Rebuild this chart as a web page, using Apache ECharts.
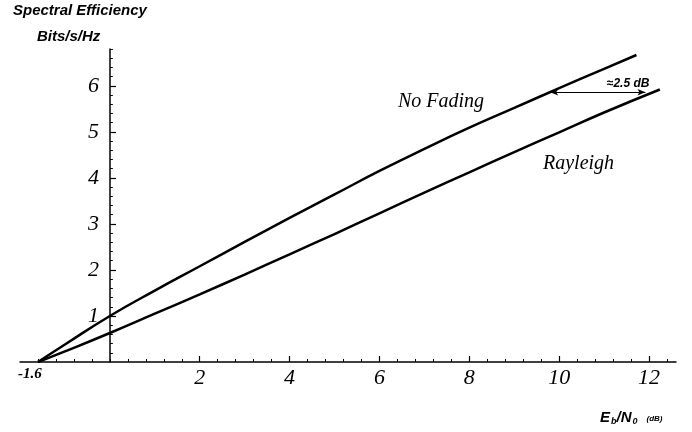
<!DOCTYPE html>
<html>
<head>
<meta charset="utf-8">
<script src="https://cdn.jsdelivr.net/npm/echarts@6/dist/echarts.min.js"></script>
<style>
  html, body { margin: 0; padding: 0; background: #fff; }
  #chart { width: 692px; height: 432px; }
</style>
</head>
<body>
<div id="chart"></div>
<script>
// ---- data ----
const noFadingX = [-1.6, -1, 0, 1, 2, 3, 4, 5, 6, 7, 8, 9, 10, 11, 11.72];
const noFadingY = [0, 0.38, 1.0, 1.55, 2.08, 2.61, 3.13, 3.64, 4.15, 4.63, 5.09, 5.52, 5.95, 6.37, 6.67];
const rayleighX = [-1.6, -1, 0, 1, 2, 3, 4, 5, 6, 7, 8, 9, 10, 11, 12.24];
const rayleighY = [0, 0.23, 0.63, 1.05, 1.47, 1.9, 2.34, 2.78, 3.23, 3.68, 4.12, 4.56, 4.99, 5.42, 5.92];
const xTickLabels = [-1.6, 2, 4, 6, 8, 10, 12];
const xMajorTicks = [2, 4, 6, 8, 10, 12];
const yTickLabels = [1, 2, 3, 4, 5, 6];
const arrowX = [9.8, 11.92];
const arrowY = 5.86;
const arrowText = '≈2.5 dB';
const curveNames = ['No Fading', 'Rayleigh'];

// minor tick positions (axis decoration only)
const xMinor = [];
for (let i = -4; i <= 31; i++) { xMinor.push(Math.round(i * 0.4 * 10) / 10); }
const yMinor = [];
for (let i = 1; i <= 34; i++) { yMinor.push(Math.round(i * 0.2 * 10) / 10); }

const serif = 'Liberation Serif';
const sans = 'Liberation Sans';

const zip = (xs, ys) => xs.map((x, i) => [x, ys[i]]);

const chart = echarts.init(document.getElementById('chart'), null, { renderer: 'canvas' });

const tickLabelStyle = { fontFamily: serif, fontStyle: 'italic', fontSize: 22, color: '#000' };

chart.setOption({
  animation: false,
  backgroundColor: '#fff',
  grid: { left: 20, right: 16, top: 49, bottom: 70, outerBoundsMode: 'none' },
  xAxis: [
    {
      type: 'value', min: -2, max: 12.6,
      axisLine: { onZero: true, lineStyle: { color: '#000', width: 1.5 } },
      axisTick: { show: true, inside: true, length: 3, customValues: xMinor, lineStyle: { color: '#000', width: 1 } },
      axisLabel: {
        show: true, customValues: xTickLabels, margin: 5,
        ...tickLabelStyle,
        formatter: v => (v < 0 ? '{n|' + v + '}' : String(v)),
        rich: { n: { fontFamily: serif, fontStyle: 'italic', fontWeight: 'bold', fontSize: 15, color: '#000', padding: [0, 16, 0, 0] } }
      },
      splitLine: { show: false }
    },
    {
      type: 'value', min: -2, max: 12.6, position: 'bottom',
      axisLine: { show: false, onZero: false },
      axisTick: { show: true, inside: true, length: 6, customValues: xMajorTicks, lineStyle: { color: '#000', width: 1.2 } },
      axisLabel: { show: false },
      splitLine: { show: false }
    }
  ],
  yAxis: [
    {
      type: 'value', min: 0, max: 6.8, position: 'left',
      axisLine: { onZero: true, lineStyle: { color: '#000', width: 1.5 } },
      axisTick: { show: true, inside: true, length: 3, customValues: yMinor, lineStyle: { color: '#000', width: 1 } },
      axisLabel: { show: false },
      splitLine: { show: false }
    },
    {
      type: 'value', min: 0, max: 6.8, position: 'left', offset: -90,
      axisLine: { show: false, onZero: false },
      axisTick: { show: true, inside: true, length: 6, customValues: yTickLabels, lineStyle: { color: '#000', width: 1.2 } },
      axisLabel: { show: true, customValues: yTickLabels, margin: 11, ...tickLabelStyle },
      splitLine: { show: false }
    }
  ],
  series: [
    {
      name: curveNames[0], type: 'line', xAxisIndex: 0, yAxisIndex: 0,
      data: zip(noFadingX, noFadingY), showSymbol: false, smooth: 0.5,
      lineStyle: { color: '#000', width: 2.5 },
      markLine: {
        silent: true, symbol: ['arrow', 'arrow'], symbolSize: [5, 8],
        lineStyle: { color: '#000', width: 1, type: 'solid' },
        label: {
          show: true, position: 'insideEndTop', formatter: arrowText, offset: [7, 0],
          fontFamily: sans, fontWeight: 'bold', fontStyle: 'italic', fontSize: 12, color: '#000', distance: 3
        },
        data: [[{ coord: [arrowX[0], arrowY] }, { coord: [arrowX[1], arrowY] }]]
      }
    },
    {
      name: curveNames[1], type: 'line', xAxisIndex: 0, yAxisIndex: 0,
      data: zip(rayleighX, rayleighY), showSymbol: false, smooth: 0.5,
      lineStyle: { color: '#000', width: 2.5 }
    }
  ],
  graphic: [
    { type: 'text', left: 13, top: 3, style: { text: 'Spectral Efficiency', fontFamily: sans, fontWeight: 'bold', fontStyle: 'italic', fontSize: 15, fill: '#000' } },
    { type: 'text', left: 37, top: 29, style: { text: 'Bits/s/Hz', fontFamily: sans, fontWeight: 'bold', fontStyle: 'italic', fontSize: 15, fill: '#000' } },
    { type: 'text', left: 398, top: 92, style: { text: curveNames[0], fontFamily: serif, fontStyle: 'italic', fontSize: 20, fill: '#000' } },
    { type: 'text', left: 543, top: 154, style: { text: curveNames[1], fontFamily: serif, fontStyle: 'italic', fontSize: 20, fill: '#000' } },
    {
      type: 'text', left: 600, top: 410,
      style: {
        text: '{m|E}{s|b}{m|/N}{s|0}{u|(dB)}',
        rich: {
          m: { fontFamily: sans, fontWeight: 'bold', fontStyle: 'italic', fontSize: 15, fill: '#000' },
          s: { fontFamily: sans, fontWeight: 'bold', fontStyle: 'italic', fontSize: 9, fill: '#000', padding: [8, 0, 0, 1] },
          u: { fontFamily: sans, fontWeight: 'bold', fontStyle: 'italic', fontSize: 8, fill: '#000', padding: [3, 0, 0, 9] }
        }
      }
    }
  ]
});
</script>
</body>
</html>
